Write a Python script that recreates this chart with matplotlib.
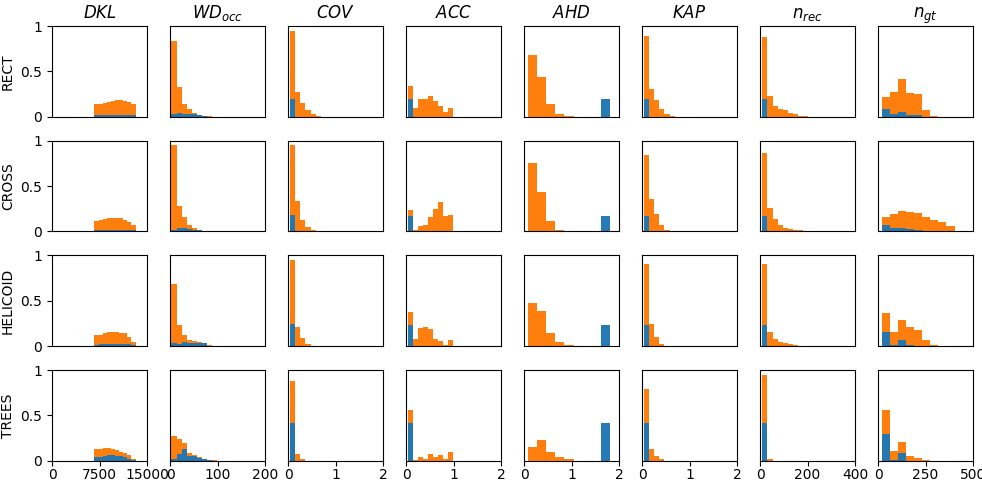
import numpy as np
import matplotlib
matplotlib.use("Agg")
import matplotlib.pyplot as plt

# ---------------- data ----------------
metrics = ["$DKL$", "$WD_{occ}$", "$COV$", "$ACC$", "$AHD$", "$KAP$", "$n_{rec}$", "$n_{gt}$"]
shapes = ["RECT", "CROSS", "HELICOID", "TREES"]

# histogram bin edges per metric: first edge, bin width
bin_start = [6680, 3.0, 0.035, 0.035, 0.09, 0.04, 10.0, 19.5]
bin_width = [648, 10.6, 0.11, 0.106, 0.19, 0.108, 21.4, 42.5]

# x-axis limits and ticks per metric
x_max = [15000, 200, 2, 2, 2, 2, 400, 500]
x_ticks = [[0, 7500, 15000], [0, 100, 200], [0, 1, 2], [0, 1, 2],
           [0, 1, 2], [0, 1, 2], [0, 200, 400], [0, 250, 500]]

# total (orange) bar heights  [shape][metric]
total = {
    "RECT": [
        [0.135, 0.14, 0.155, 0.16, 0.17, 0.18, 0.185, 0.175, 0.16, 0.135],
        [0.83, 0.33, 0.14, 0.085, 0.045, 0.02, 0.01, 0.003, 0.001],
        [0.95, 0.27, 0.15, 0.07, 0.035, 0.01],
        [0.34, 0.10, 0.19, 0.20, 0.23, 0.17, 0.12, 0.05, 0.10],
        [0.68, 0.44, 0.14, 0.03, 0.005, 0.0, 0.0, 0.0, 0.0],
        [0.89, 0.30, 0.18, 0.09, 0.03, 0.005],
        [0.88, 0.23, 0.12, 0.085, 0.07, 0.04, 0.025, 0.012, 0.005],
        [0.22, 0.27, 0.42, 0.26, 0.25, 0.07, 0.005],
    ],
    "CROSS": [
        [0.12, 0.13, 0.14, 0.145, 0.145, 0.145, 0.145, 0.13, 0.10, 0.075],
        [0.95, 0.28, 0.155, 0.075, 0.04, 0.02, 0.005],
        [0.95, 0.33, 0.13, 0.05, 0.015],
        [0.24, 0.02, 0.06, 0.07, 0.16, 0.25, 0.32, 0.17, 0.18],
        [0.75, 0.44, 0.11, 0.02, 0.0, 0.0, 0.0, 0.0, 0.0],
        [0.84, 0.36, 0.19, 0.07, 0.015],
        [0.86, 0.26, 0.14, 0.075, 0.04, 0.03, 0.015, 0.01, 0.003],
        [0.16, 0.19, 0.23, 0.21, 0.20, 0.16, 0.13, 0.10, 0.06],
    ],
    "HELICOID": [
        [0.12, 0.125, 0.145, 0.155, 0.16, 0.155, 0.145, 0.14, 0.10, 0.045],
        [0.68, 0.235, 0.12, 0.065, 0.06, 0.04, 0.035, 0.01, 0.003],
        [0.95, 0.21, 0.085, 0.025, 0.004],
        [0.375, 0.08, 0.20, 0.21, 0.19, 0.08, 0.06, 0.01, 0.07],
        [0.48, 0.385, 0.14, 0.04, 0.01, 0.003, 0.0, 0.0, 0.0],
        [0.90, 0.24, 0.10, 0.025, 0.003],
        [0.90, 0.15, 0.08, 0.05, 0.03, 0.02, 0.01, 0.003],
        [0.366, 0.16, 0.29, 0.21, 0.18, 0.07, 0.01],
    ],
    "TREES": [
        [0.13, 0.13, 0.14, 0.14, 0.135, 0.12, 0.10, 0.085, 0.065, 0.025],
        [0.27, 0.24, 0.20, 0.085, 0.065, 0.045, 0.025, 0.01, 0.005],
        [0.88, 0.08, 0.02],
        [0.56, 0.01, 0.04, 0.02, 0.075, 0.04, 0.065, 0.02, 0.10],
        [0.15, 0.23, 0.10, 0.04, 0.02, 0.003, 0.0, 0.0, 0.0],
        [0.79, 0.13, 0.05, 0.015],
        [0.95, 0.02, 0.002],
        [0.56, 0.11, 0.21, 0.05, 0.03, 0.01],
    ],
}

# blue bar heights  [shape][metric]
blue = {
    "RECT": [
        [0.015, 0.018, 0.02, 0.022, 0.022, 0.022, 0.022, 0.02, 0.02, 0.02],
        [0.03, 0.04, 0.035, 0.035, 0.03, 0.015, 0.005, 0.0, 0.0],
        [0.20, 0.0, 0.0, 0.0, 0.0, 0.0],
        [0.19, 0.0, 0.0, 0.0, 0.0, 0.0, 0.0, 0.0, 0.0],
        [0.0, 0.0, 0.0, 0.0, 0.0, 0.0, 0.0, 0.0, 0.19],
        [0.19, 0.0, 0.0, 0.0, 0.0, 0.0],
        [0.20, 0.0, 0.0, 0.0, 0.0, 0.0, 0.0, 0.0, 0.0],
        [0.08, 0.03, 0.05, 0.02, 0.02, 0.0, 0.0],
    ],
    "CROSS": [
        [0.01, 0.012, 0.015, 0.015, 0.015, 0.015, 0.015, 0.015, 0.012, 0.01],
        [0.02, 0.04, 0.04, 0.03, 0.02, 0.01, 0.003],
        [0.18, 0.0, 0.0, 0.0, 0.0],
        [0.17, 0.0, 0.0, 0.0, 0.0, 0.0, 0.0, 0.0, 0.0],
        [0.0, 0.0, 0.0, 0.0, 0.0, 0.0, 0.0, 0.0, 0.17],
        [0.17, 0.0, 0.0, 0.0, 0.0],
        [0.17, 0.0, 0.0, 0.0, 0.0, 0.0, 0.0, 0.0, 0.0],
        [0.07, 0.04, 0.04, 0.03, 0.01, 0.0, 0.0, 0.0, 0.0],
    ],
    "HELICOID": [
        [0.015, 0.018, 0.022, 0.025, 0.025, 0.025, 0.025, 0.022, 0.02, 0.01],
        [0.03, 0.02, 0.05, 0.035, 0.03, 0.03, 0.03, 0.005, 0.0],
        [0.24, 0.0, 0.0, 0.0, 0.0],
        [0.23, 0.0, 0.0, 0.0, 0.0, 0.0, 0.0, 0.0, 0.0],
        [0.0, 0.0, 0.0, 0.0, 0.0, 0.0, 0.0, 0.0, 0.23],
        [0.23, 0.0, 0.0, 0.0, 0.0],
        [0.23, 0.0, 0.0, 0.0, 0.0, 0.0, 0.0, 0.0],
        [0.15, 0.01, 0.07, 0.01, 0.0, 0.0, 0.0],
    ],
    "TREES": [
        [0.04, 0.045, 0.05, 0.06, 0.06, 0.055, 0.05, 0.04, 0.02, 0.01],
        [0.02, 0.08, 0.13, 0.05, 0.05, 0.035, 0.02, 0.005, 0.002],
        [0.42, 0.0, 0.0],
        [0.42, 0.0, 0.0, 0.0, 0.0, 0.0, 0.0, 0.0, 0.0],
        [0.0, 0.0, 0.0, 0.0, 0.0, 0.0, 0.0, 0.0, 0.42],
        [0.42, 0.0, 0.0, 0.0],
        [0.42, 0.0, 0.0],
        [0.29, 0.01, 0.09, 0.0, 0.0, 0.0],
    ],
}

# ---------------- plot ----------------
fig, axes = plt.subplots(4, 8, figsize=(9.82, 4.82), dpi=100)
fig.subplots_adjust(left=0.053, right=0.991, bottom=0.044, top=0.946,
                    wspace=0.24, hspace=0.265)

ORANGE = "#ff7f0e"
BLUE = "#1f77b4"

for r, shape in enumerate(shapes):
    for c, metric in enumerate(metrics):
        ax = axes[r, c]
        tot = np.array(total[shape][c])
        bl = np.array(blue[shape][c])
        n = max(len(tot), len(bl))
        lefts = bin_start[c] + bin_width[c] * np.arange(n)
        ax.bar(lefts[:len(tot)], tot, width=bin_width[c], align="edge",
               color=ORANGE, linewidth=0)
        ax.bar(lefts[:len(bl)], bl, width=bin_width[c], align="edge",
               color=BLUE, alpha=0.97, linewidth=0)
        ax.set_xlim(0, x_max[c])
        ax.set_ylim(0, 1)
        ax.tick_params(axis="x", length=3.5, pad=2.0, labelsize=10)
        if r == 0:
            ax.set_title(metric, fontsize=12)
        if c == 0:
            ax.set_ylabel(shape, fontsize=10)
            ax.set_yticks([0, 0.5, 1])
            ax.set_yticklabels(["0", "0.5", "1"])
        else:
            ax.set_yticks([])
        if r == len(shapes) - 1:
            ax.set_xticks(x_ticks[c])
            ax.set_xticklabels([str(t) for t in x_ticks[c]])
        else:
            ax.set_xticks([])

fig.savefig("out.png", dpi=100)
